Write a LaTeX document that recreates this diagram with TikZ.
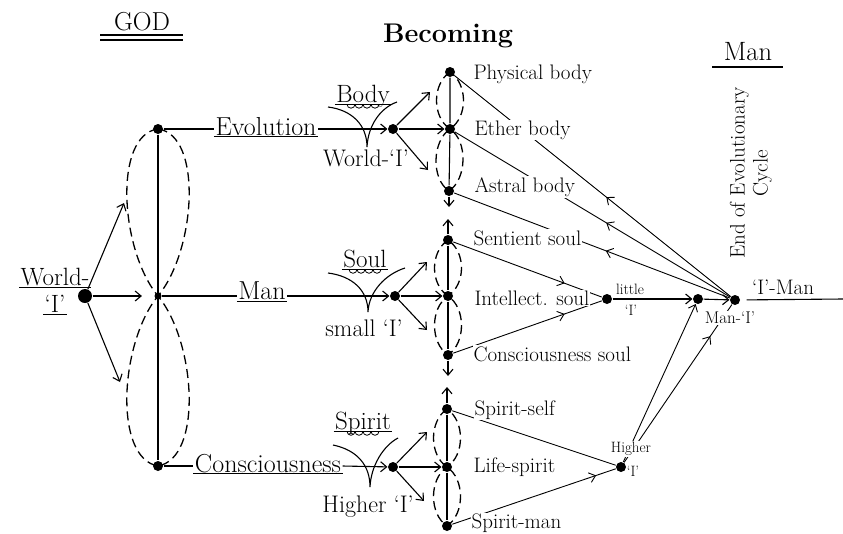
\documentclass[tikz,border=0pt]{standalone}
\usepackage{fontspec}
\usetikzlibrary{arrows.meta,decorations.markings}
\tikzset{
    vertex/.style={circle,fill,inner sep=0pt,minimum size=10pt},
    bigvertex/.style={vertex,minimum size=14pt},
    smallvertex/.style={vertex,minimum size=7pt},
    stage/.style={font=\fontsize{26}{30}\selectfont,inner sep=1pt,text depth=0pt},
    aspect/.style={font=\fontsize{25}{29}\selectfont,inner sep=1pt,text depth=0pt},
    ilabel/.style={font=\fontsize{24}{28}\selectfont,inner sep=1pt},
    member/.style={font=\fontsize{21}{25}\selectfont,anchor=west,inner sep=1pt,fill=white},
    tinytext/.style={font=\fontsize{15}{18}\selectfont,inner sep=1pt},
    lobe/.style={line width=1.3pt,dash pattern=on 9pt off 5pt},
    midarr/.style={postaction={decorate},
        decoration={markings,mark=at position #1 with {\arrow{>}}}},
}

\begin{document}
\begin{tikzpicture}[x=1pt,y=-1pt,line width=1.1pt,>={Straight Barb[length=6pt,width=10pt]}]
    \useasboundingbox (0,0) rectangle (843,533);

    % headings
    \node[font=\fontsize{26}{30}\selectfont] (god) at (142,22) {GOD};
    \draw (100,35) -- (183,35);
    \draw (100,40) -- (183,40);
    \node[font=\fontsize{27}{31}\selectfont\bfseries] (becoming) at (448,36) {Becoming};
    \node[font=\fontsize{26.5}{31}\selectfont] (manhead) at (748,52) {Man};
    \draw (712,67) -- (783,67);
    \node[font=\fontsize{21}{23}\selectfont,rotate=90,align=center] (cycle) at (751,173) {End of Evolutionary\\Cycle};

    % God
    \node[bigvertex] (wI) at (85,296) {};
    \node[vertex] (gT) at (158,129) {};
    \node[smallvertex] (gM) at (158,296) {};
    \node[vertex] (gB) at (158,466) {};
    \node[aspect] (wA) at (55,277) {World-};
    \node[aspect] (wB) at (55,304) {`I'};
    \coordinate (wIup) at (124,203);
    \coordinate (wIdn) at (120,382);

    \node[stage] (evo) at (266,126) {Evolution};
    \node[stage] (man) at (262,291) {Man};
    \node[stage] (con) at (268,463) {Consciousness};
    \foreach \l in {evo,man,con,wA,wB}
        \draw (\l.south west) -- (\l.south east);

    \draw[lobe] (gT.center) .. controls (113,135) and (120,250) .. (gM.center)
        .. controls (196,342) and (203,458) .. (gB.center)
        .. controls (113,458) and (120,342) .. (gM.center)
        .. controls (196,250) and (203,135) .. (gT.center);
    \draw (gT) -- (gB);
    \draw[->] (wI) -- (wIup);
    \draw[->] (wI) -- (wIdn);
    \draw[->,shorten >=12pt] (wI) -- (gM);

    % body, soul, spirit
    \node[vertex] (bodyD) at (393,129) {};
    \node[vertex] (soulD) at (395,296) {};
    \node[vertex] (spiritD) at (393,467) {};
    \node[aspect] (bodyL) at (363,94) {Body};
    \node[aspect] (soulL) at (365,259) {Soul};
    \node[aspect] (spiritL) at (363,421) {Spirit};
    \foreach \l in {bodyL,soulL,spiritL} {
        \draw (\l.south west) -- (\l.south east);
        \foreach \x in {-16,-8,0,8}
            \draw[line width=0.8pt] ([xshift=\x pt]\l.south) arc[start angle=180,end angle=360,radius=4pt];
    }
    \node[ilabel] (worldI) at (366,158) {World-`I'};
    \node[ilabel] (smallI) at (364,328) {small `I'};
    \node[ilabel] (higherI) at (368,507) {Higher `I'};
    \draw (328,107) .. controls (352,110) and (367,125) .. (367,147)
        .. controls (368,126) and (380,108) .. (397,102);
    \draw (328,273) .. controls (352,276) and (368,290) .. (368,312)
        .. controls (369,291) and (386,274) .. (405,268);
    \draw (333,445) .. controls (357,450) and (370,465) .. (370,487)
        .. controls (371,466) and (383,446) .. (398,438);

    \draw (gT) -- (evo.west |- gT);
    \draw[->] (evo.east |- gT) -- (bodyD);
    \draw (gM) -- (man.west |- gM);
    \draw[->] (man.east |- gM) -- (soulD);
    \draw (gB) -- (con.west |- gB);
    \draw[->] (con.east |- gB) -- (spiritD);

    % becoming
    \node[vertex] (phy) at (450,72) {};
    \node[vertex] (eth) at (450,129) {};
    \node[vertex] (ast) at (449,191) {};
    \node[vertex] (sen) at (448,240) {};
    \node[vertex] (int) at (448,296) {};
    \node[vertex] (cns) at (448,355) {};
    \node[vertex] (sps) at (447,409) {};
    \node[vertex] (lsp) at (447,467) {};
    \node[vertex] (spm) at (447,526) {};
    \coordinate (bodyup) at (430,92);
    \coordinate (bodydn) at (428,170);
    \coordinate (soulup) at (427,262);
    \coordinate (souldn) at (427,330);
    \coordinate (spiritup) at (427,432);
    \coordinate (spiritdn) at (424,501);
    \coordinate (astdn) at (449,207);
    \coordinate (senup) at (448,219);
    \coordinate (cnsdn) at (448,376);
    \coordinate (spsup) at (447,387);

    \foreach \a/\b/\c in {phy/eth/ast,sen/int/cns,sps/lsp/spm}
        \draw[lobe] (\a.center) .. controls +(-18,12) and +(-18,-12) .. (\b.center)
            .. controls +(18,12) and +(18,-12) .. (\c.center)
            .. controls +(-18,-12) and +(-18,12) .. (\b.center)
            .. controls +(18,-12) and +(18,12) .. (\a.center);

    \foreach \d/\u/\n/\m in {bodyD/bodyup/bodydn/eth,soulD/soulup/souldn/int,spiritD/spiritup/spiritdn/lsp} {
        \draw[->] (\d) -- (\u);
        \draw[->] (\d) -- (\n);
        \draw[->] (\d) -- (\m);
    }
    \draw (phy) -- (eth) -- (ast);
    \draw[->] (ast) -- (astdn);
    \draw[->] (sen) -- (senup);
    \draw (sen) -- (int) -- (cns);
    \draw[->] (cns) -- (cnsdn);
    \draw[->] (sps) -- (spsup);
    \draw (sps) -- (lsp) -- (spm);

    % man
    \node[vertex] (lit) at (607,299) {};
    \node[vertex] (manI) at (698,299) {};
    \node[vertex] (iman) at (735,300) {};
    \node[vertex] (hig) at (621,467) {};
    \coordinate (imanend) at (843,299);

    \foreach \b in {phy,eth,ast}
        \draw[line width=0.9pt,midarr=0.45] (iman) -- (\b);
    \draw[line width=0.9pt,midarr=0.75] (sen) -- (lit);
    \draw[line width=0.9pt,midarr=0.75] (cns) -- (lit);
    \draw[->] (lit) -- (manI);
    \draw[->] (manI) -- (iman);
    \draw[line width=0.9pt,->] (hig) -- (manI);
    \draw[line width=0.9pt,midarr=0.8] (hig) -- (iman);
    \draw[line width=0.9pt] (sps) -- (hig);
    \draw[line width=0.9pt,midarr=0.88] (spm) -- (hig);
    \draw[shorten <=6pt] (iman) -- (imanend);

    \node[member] (phyL) at (472,74) {Physical body};
    \node[member] (ethL) at (473,130) {Ether body};
    \node[member] (astL) at (473,187) {Astral body};
    \node[member] (senL) at (472,238) {Sentient soul};
    \node[member] (intL) at (473,298) {Intellect. soul};
    \node[member] (cnsL) at (472,354) {Consciousness soul};
    \node[member] (spsL) at (473,410) {Spirit-self};
    \node[member] (lspL) at (472,467) {Life-spirit};
    \node[member] (spmL) at (470,523) {Spirit-man};

    \node[tinytext] (litA) at (630,289) {little};
    \node[tinytext] (litB) at (631,310) {`I'};
    \node[tinytext,fill=white] (higA) at (631,449) {Higher};
    \node[tinytext] (higB) at (633,471) {`I'};
    \node[font=\fontsize{17}{20}\selectfont,inner sep=1pt,fill=white] (manIL) at (730,318) {Man-`I'};
    \node[font=\fontsize{21}{25}\selectfont] (imanL) at (783,287) {`I'-Man};
\end{tikzpicture}
\end{document}
